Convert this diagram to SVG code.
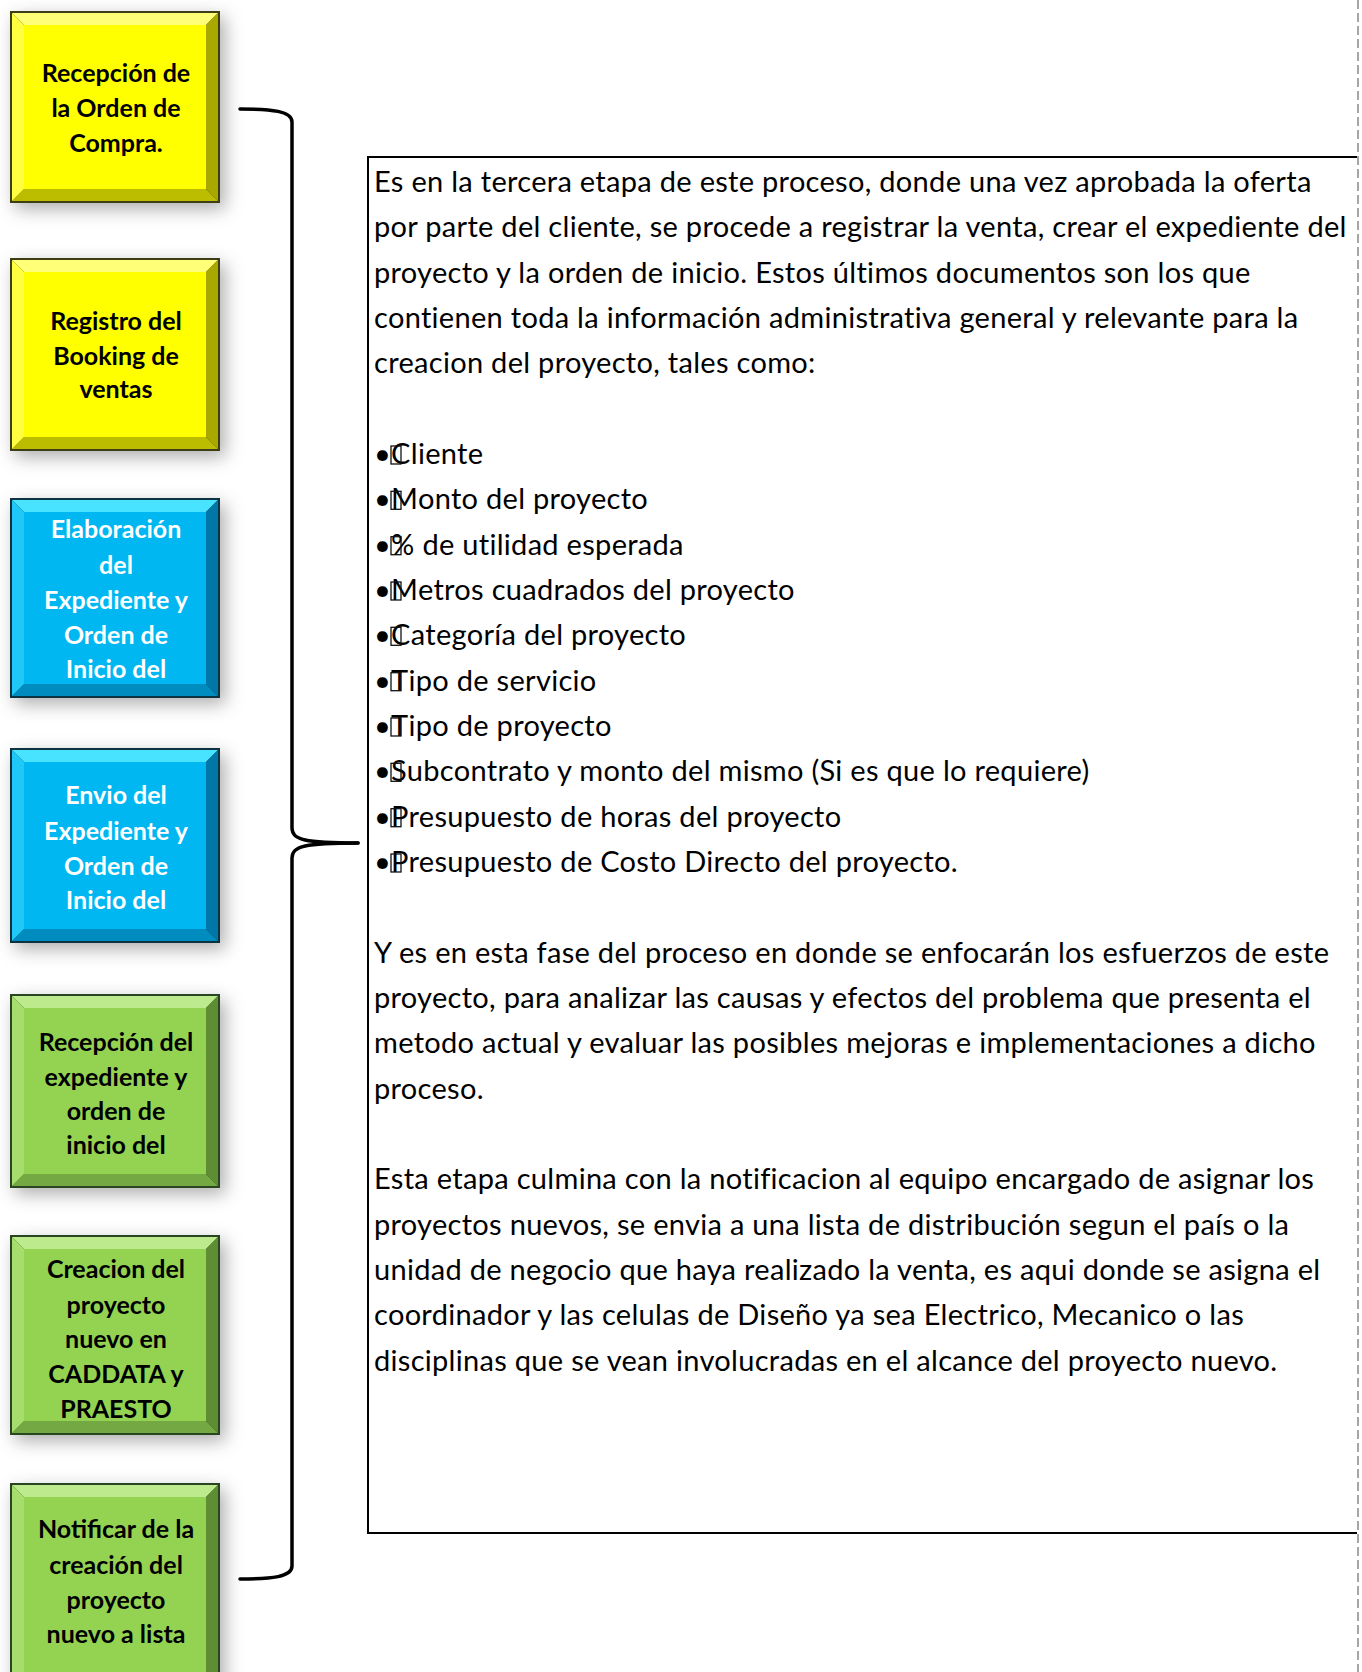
<svg xmlns="http://www.w3.org/2000/svg" width="1362" height="1672" viewBox="0 0 1362 1672">
  <defs>
    <filter id="soft" x="-30%" y="-30%" width="160%" height="160%">
      <feDropShadow dx="5" dy="6" stdDeviation="9" flood-color="#000" flood-opacity="0.32"/>
    </filter>
  </defs>
  <style>
    .lbl { font-family: Lato, "Liberation Sans", sans-serif; font-weight: 700; font-size: 25px; text-anchor: middle; }
    .dark { fill: #000; }
    .light { fill: #fff; }
    .body { font-family: Lato, "Liberation Sans", sans-serif; font-size: 29px; letter-spacing: 0.3px; fill: #000; }
    .tofu { fill: none; stroke: #111; stroke-width: 1.3; }
    /* bevel palettes */
    .y .edge { fill: #3c3c14; } .y .face { fill: #ffff00; } .y .top { fill: #ffff78; } .y .left { fill: #ffff40; } .y .right { fill: #a8a800; } .y .bot { fill: #bcbc00; }
    .b .edge { fill: #10313f; } .b .face { fill: #00b7f1; } .b .top { fill: #48e4ff; } .b .left { fill: #20c8f8; } .b .right { fill: #0077a6; } .b .bot { fill: #008cbf; }
    .g .edge { fill: #2c4520; } .g .face { fill: #94d352; } .g .top { fill: #bdea8c; } .g .left { fill: #a6dd6c; } .g .right { fill: #5f8d33; } .g .bot { fill: #74a842; }
  </style>

  <!-- page edge -->
  <line x1="1358" y1="0" x2="1358" y2="1672" stroke="#a6a6a6" stroke-width="2" stroke-dasharray="9 4"/>

  <!-- process steps -->
  <g id="step1" class="y">
    <rect class="edge" x="10" y="11" width="210" height="192" filter="url(#soft)"/>
    <polygon class="top" points="12,13 218,13 206,25 24,25"/>
    <polygon class="bot" points="12,201 218,201 206,189 24,189"/>
    <polygon class="left" points="12,13 24,25 24,189 12,201"/>
    <polygon class="right" points="218,13 206,25 206,189 218,201"/>
    <rect class="face" x="24" y="25" width="182" height="164"/>
    <text class="lbl dark"><tspan x="116" y="82">Recepción de</tspan><tspan x="116" y="117">la Orden de</tspan><tspan x="116" y="152">Compra.</tspan></text>
  </g>

  <g id="step2" class="y">
    <rect class="edge" x="10" y="258" width="210" height="193" filter="url(#soft)"/>
    <polygon class="top" points="12,260 218,260 206,272 24,272"/>
    <polygon class="bot" points="12,449 218,449 206,437 24,437"/>
    <polygon class="left" points="12,260 24,272 24,437 12,449"/>
    <polygon class="right" points="218,260 206,272 206,437 218,449"/>
    <rect class="face" x="24" y="272" width="182" height="165"/>
    <text class="lbl dark"><tspan x="116" y="330">Registro del</tspan><tspan x="116" y="365">Booking de</tspan><tspan x="116" y="398">ventas</tspan></text>
  </g>

  <g id="step3" class="b">
    <rect class="edge" x="10" y="498" width="210" height="200" filter="url(#soft)"/>
    <polygon class="top" points="12,500 218,500 206,512 24,512"/>
    <polygon class="bot" points="12,696 218,696 206,684 24,684"/>
    <polygon class="left" points="12,500 24,512 24,684 12,696"/>
    <polygon class="right" points="218,500 206,512 206,684 218,696"/>
    <rect class="face" x="24" y="512" width="182" height="172"/>
    <text class="lbl light"><tspan x="116" y="538">Elaboración</tspan><tspan x="116" y="574">del</tspan><tspan x="116" y="609">Expediente y</tspan><tspan x="116" y="644">Orden de</tspan><tspan x="116" y="678">Inicio del</tspan></text>
  </g>

  <g id="step4" class="b">
    <rect class="edge" x="10" y="748" width="210" height="195" filter="url(#soft)"/>
    <polygon class="top" points="12,750 218,750 206,762 24,762"/>
    <polygon class="bot" points="12,941 218,941 206,929 24,929"/>
    <polygon class="left" points="12,750 24,762 24,929 12,941"/>
    <polygon class="right" points="218,750 206,762 206,929 218,941"/>
    <rect class="face" x="24" y="762" width="182" height="167"/>
    <text class="lbl light"><tspan x="116" y="804">Envio del</tspan><tspan x="116" y="840">Expediente y</tspan><tspan x="116" y="875">Orden de</tspan><tspan x="116" y="909">Inicio del</tspan></text>
  </g>

  <g id="step5" class="g">
    <rect class="edge" x="10" y="994" width="210" height="194" filter="url(#soft)"/>
    <polygon class="top" points="12,996 218,996 206,1008 24,1008"/>
    <polygon class="bot" points="12,1186 218,1186 206,1174 24,1174"/>
    <polygon class="left" points="12,996 24,1008 24,1174 12,1186"/>
    <polygon class="right" points="218,996 206,1008 206,1174 218,1186"/>
    <rect class="face" x="24" y="1008" width="182" height="166"/>
    <text class="lbl dark"><tspan x="116" y="1051">Recepción del</tspan><tspan x="116" y="1086">expediente y</tspan><tspan x="116" y="1120">orden de</tspan><tspan x="116" y="1154">inicio del</tspan></text>
  </g>

  <g id="step6" class="g">
    <rect class="edge" x="10" y="1235" width="210" height="200" filter="url(#soft)"/>
    <polygon class="top" points="12,1237 218,1237 206,1249 24,1249"/>
    <polygon class="bot" points="12,1433 218,1433 206,1421 24,1421"/>
    <polygon class="left" points="12,1237 24,1249 24,1421 12,1433"/>
    <polygon class="right" points="218,1237 206,1249 206,1421 218,1433"/>
    <rect class="face" x="24" y="1249" width="182" height="172"/>
    <text class="lbl dark"><tspan x="116" y="1278">Creacion del</tspan><tspan x="116" y="1314">proyecto</tspan><tspan x="116" y="1348">nuevo en</tspan><tspan x="116" y="1383">CADDATA y</tspan><tspan x="116" y="1418">PRAESTO</tspan></text>
  </g>

  <g id="step7" class="g">
    <rect class="edge" x="10" y="1483" width="210" height="220" filter="url(#soft)"/>
    <polygon class="top" points="12,1485 218,1485 206,1497 24,1497"/>
    <polygon class="left" points="12,1485 24,1497 24,1690 12,1690"/>
    <polygon class="right" points="218,1485 206,1497 206,1690 218,1690"/>
    <rect class="face" x="24" y="1497" width="182" height="193"/>
    <text class="lbl dark"><tspan x="116" y="1538">Notificar de la</tspan><tspan x="116" y="1574">creación del</tspan><tspan x="116" y="1609">proyecto</tspan><tspan x="116" y="1643">nuevo a lista</tspan></text>
  </g>

  <!-- brace grouping all steps -->
  <g id="connectors" fill="none" stroke="#000" stroke-width="3.5" stroke-linecap="round" stroke-linejoin="round">
    <path d="M240,109 C272,109 292,111 292,122 L292,828 C292,840 305,843 358,843"/>
    <path d="M358,843 C305,843 292,846 292,858 L292,1566 C292,1577 272,1579 240,1579"/>
  </g>

  <!-- description panel -->
  <g id="description">
    <path d="M1357,157 L368,157 L368,1533 L1357,1533" fill="none" stroke="#000" stroke-width="2"/>
    <text class="body">
      <tspan x="374" y="192">Es en la tercera etapa de este proceso, donde una vez aprobada la oferta</tspan>
      <tspan x="374" y="237.3">por parte del cliente, se procede a registrar la venta, crear el expediente del</tspan>
      <tspan x="374" y="282.7">proyecto y la orden de inicio. Estos últimos documentos son los que</tspan>
      <tspan x="374" y="328">contienen toda la información administrativa general y relevante para la</tspan>
      <tspan x="374" y="373.3">creacion del proyecto, tales como:</tspan>
      <tspan x="374" y="464">•Cliente</tspan>
      <tspan x="374" y="509.3">•Monto del proyecto</tspan>
      <tspan x="374" y="554.7">•% de utilidad esperada</tspan>
      <tspan x="374" y="600">•Metros cuadrados del proyecto</tspan>
      <tspan x="374" y="645.3">•Categoría del proyecto</tspan>
      <tspan x="374" y="690.7">•Tipo de servicio</tspan>
      <tspan x="374" y="736">•Tipo de proyecto</tspan>
      <tspan x="374" y="781.3">•Subcontrato y monto del mismo (Si es que lo requiere)</tspan>
      <tspan x="374" y="826.7">•Presupuesto de horas del proyecto</tspan>
      <tspan x="374" y="872">•Presupuesto de Costo Directo del proyecto.</tspan>
      <tspan x="374" y="962.7">Y es en esta fase del proceso en donde se enfocarán los esfuerzos de este</tspan>
      <tspan x="374" y="1008">proyecto, para analizar las causas y efectos del problema que presenta el</tspan>
      <tspan x="374" y="1053.3">metodo actual y evaluar las posibles mejoras e implementaciones a dicho</tspan>
      <tspan x="374" y="1098.7">proceso.</tspan>
      <tspan x="374" y="1189.3">Esta etapa culmina con la notificacion al equipo encargado de asignar los</tspan>
      <tspan x="374" y="1234.7">proyectos nuevos, se envia a una lista de distribución segun el país o la</tspan>
      <tspan x="374" y="1280">unidad de negocio que haya realizado la venta, es aqui donde se asigna el</tspan>
      <tspan x="374" y="1325.3">coordinador y las celulas de Diseño ya sea Electrico, Mecanico o las</tspan>
      <tspan x="374" y="1370.7">disciplinas que se vean involucradas en el alcance del proyecto nuevo.</tspan>
    </text>
    <!-- unresolved symbol glyph boxes in front of each list item -->
    <g class="tofu">
      <rect x="391" y="446" width="10" height="18"/>
      <rect x="391" y="491.3" width="10" height="18"/>
      <rect x="391" y="536.7" width="10" height="18"/>
      <rect x="391" y="582" width="10" height="18"/>
      <rect x="391" y="627.3" width="10" height="18"/>
      <rect x="391" y="672.7" width="10" height="18"/>
      <rect x="391" y="718" width="10" height="18"/>
      <rect x="391" y="763.3" width="10" height="18"/>
      <rect x="391" y="808.7" width="10" height="18"/>
      <rect x="391" y="854" width="10" height="18"/>
    </g>
  </g>
</svg>
